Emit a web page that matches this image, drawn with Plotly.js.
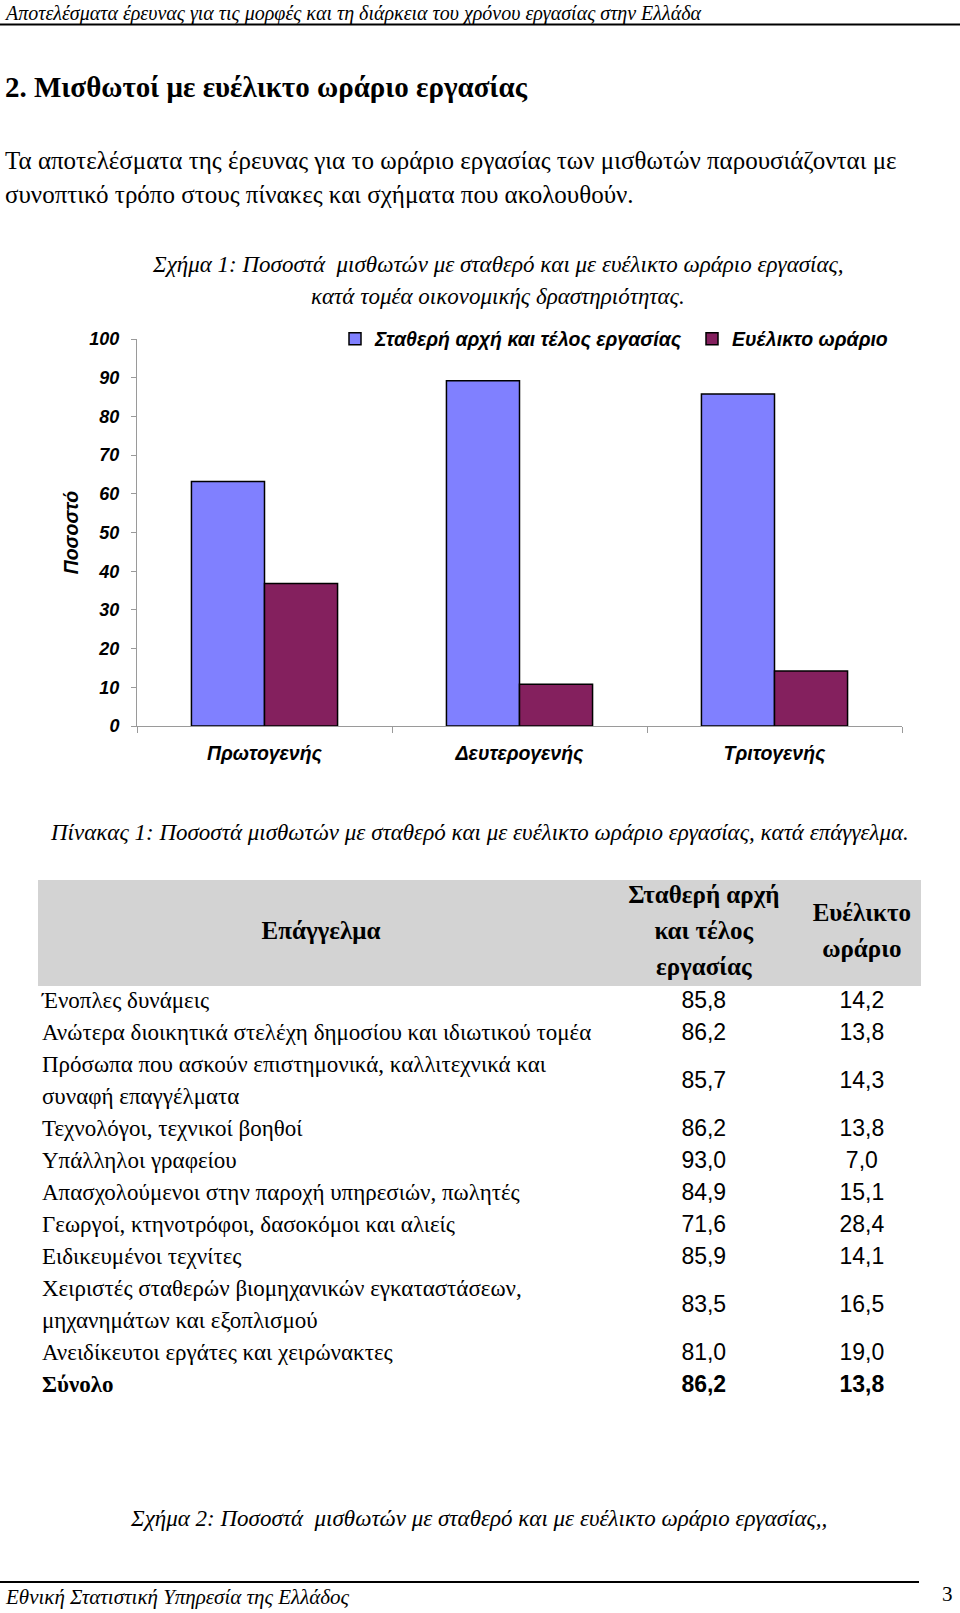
<!DOCTYPE html>
<html>
<head>
<meta charset="utf-8">
<script src="https://cdn.plot.ly/plotly-3.0.1.min.js"></script>
<style>
html,body{margin:0;padding:0;background:#fff;}
#page{width:960px;height:1613px;}
</style>
</head>
<body>
<div id="page"></div>
<script>
// ---------------- DATA ----------------
var sectors = ['Πρωτογενής', 'Δευτερογενής', 'Τριτογενής'];
var fixedShare = [63.2, 89.2, 85.8];
var flexibleShare = [36.8, 10.8, 14.2];
var seriesNames = ['Σταθερή αρχή και τέλος εργασίας', 'Ευέλικτο ωράριο'];
var yTickValues = [0, 10, 20, 30, 40, 50, 60, 70, 80, 90, 100];
var yAxisTitle = 'Ποσοστό';

var occupations = [
  'Ένοπλες δυνάμεις',
  'Ανώτερα διοικητικά στελέχη δημοσίου και ιδιωτικού τομέα',
  'Πρόσωπα που ασκούν επιστημονικά, καλλιτεχνικά και<br>συναφή επαγγέλματα',
  'Τεχνολόγοι, τεχνικοί βοηθοί',
  'Υπάλληλοι γραφείου',
  'Απασχολούμενοι στην παροχή υπηρεσιών, πωλητές',
  'Γεωργοί, κτηνοτρόφοι, δασοκόμοι και αλιείς',
  'Ειδικευμένοι τεχνίτες',
  'Χειριστές σταθερών βιομηχανικών εγκαταστάσεων,<br>μηχανημάτων και εξοπλισμού',
  'Ανειδίκευτοι εργάτες και χειρώνακτες'
];
var occFixed = [85.8, 86.2, 85.7, 86.2, 93.0, 84.9, 71.6, 85.9, 83.5, 81.0];
var occFlexible = [14.2, 13.8, 14.3, 13.8, 7.0, 15.1, 28.4, 14.1, 16.5, 19.0];
var totalLabel = 'Σύνολο';
var totalFixed = 86.2;
var totalFlexible = 13.8;
var tableHeader = ['Επάγγελμα', 'Σταθερή αρχή<br>και τέλος<br>εργασίας', 'Ευέλικτο<br>ωράριο'];

var pageHeader = 'Αποτελέσματα έρευνας για τις μορφές και τη διάρκεια του χρόνου εργασίας στην Ελλάδα';
var sectionTitle = '2. Μισθωτοί με ευέλικτο ωράριο εργασίας';
var introLines = ['Τα αποτελέσματα της έρευνας για το ωράριο εργασίας των μισθωτών παρουσιάζονται με',
                  'συνοπτικό τρόπο στους πίνακες και σχήματα που ακολουθούν.'];
var fig1Caption = ['Σχήμα 1: Ποσοστά&nbsp; μισθωτών με σταθερό και με ευέλικτο ωράριο εργασίας,',
                   'κατά τομέα οικονομικής δραστηριότητας.'];
var table1Caption = 'Πίνακας 1: Ποσοστά μισθωτών με σταθερό και με ευέλικτο ωράριο εργασίας, κατά επάγγελμα.';
var fig2Caption = 'Σχήμα 2: Ποσοστά&nbsp; μισθωτών με σταθερό και με ευέλικτο ωράριο εργασίας,,';
var footerText = 'Εθνική Στατιστική Υπηρεσία της Ελλάδος';
var pageNumber = '3';

// ---------------- LAYOUT HELPERS ----------------
var W = 960, H = 1613;
function px(x) { return x / W; }
function py(y) { return 1 - y / H; }
var SERIF = 'Liberation Serif, Times New Roman, serif';
var SANS = 'Liberation Sans, Arial, sans-serif';
function fmt(v) { return v.toFixed(1).replace('.', ','); }
function note(text, x, y, o) {
  var a = {xref: 'paper', yref: 'paper', x: px(x), y: py(y), text: text, showarrow: false,
           xanchor: 'left', yanchor: 'middle', font: {family: SERIF, size: 20, color: '#000'}};
  for (var k in o) a[k] = o[k];
  return a;
}

var tickFont = {family: SANS, size: 18, color: '#000', weight: 'bold', style: 'italic'};
var labelFont = {family: SANS, size: 19.5, color: '#000', weight: 'bold', style: 'italic'};

// ---------------- BAR CHART ----------------
var traces = [
  {type: 'bar', x: sectors, y: fixedShare, name: seriesNames[0], xaxis: 'x', yaxis: 'y',
   legend: 'legend', marker: {color: '#8080FF', line: {color: '#000', width: 1.5}}, hoverinfo: 'x+y'},
  {type: 'bar', x: sectors, y: flexibleShare, name: seriesNames[1], xaxis: 'x', yaxis: 'y',
   legend: 'legend2', marker: {color: '#84205E', line: {color: '#000', width: 1.5}}, hoverinfo: 'x+y'}
];

// ---------------- TABLE (text through axes x2/y2) ----------------
var rowsLabel = occupations.concat([totalLabel]);
var rowsFixed = occFixed.concat([totalFixed]);
var rowsFlex = occFlexible.concat([totalFlexible]);
var nameX = [], nameY = [], nameT = [];
var valY = [], fixT = [], flexT = [];
var lineIdx = 0;
for (var i = 0; i < rowsLabel.length; i++) {
  var isTotal = (i === rowsLabel.length - 1);
  var lines = rowsLabel[i].split('<br>');
  for (var j = 0; j < lines.length; j++) {
    nameX.push(0.0045);
    nameY.push(lineIdx + j);
    nameT.push(isTotal ? '<b>' + lines[j] + '</b>' : lines[j]);
  }
  valY.push(lineIdx + (lines.length - 1) / 2);
  fixT.push(isTotal ? '<b>' + fmt(rowsFixed[i]) + '</b>' : fmt(rowsFixed[i]));
  flexT.push(isTotal ? '<b>' + fmt(rowsFlex[i]) + '</b>' : fmt(rowsFlex[i]));
  lineIdx += lines.length;
}
var colX = [0.3205, 0.754, 0.933];
var headTop = -3.8125, headBottom = -0.5, headStep = 1.125;
var headCenter = (headTop + headBottom) / 2;
var hX = [], hY = [], hT = [];
for (var c = 0; c < tableHeader.length; c++) {
  var hl = tableHeader[c].split('<br>');
  for (var k = 0; k < hl.length; k++) {
    hX.push(colX[c]);
    hY.push(headCenter + (k - (hl.length - 1) / 2) * headStep);
    hT.push('<b>' + hl[k] + '</b>');
  }
}
var tableTextTraces = [
  {type: 'scatter', mode: 'text', x: hX, y: hY, text: hT, textposition: 'middle center',
   textfont: {family: SERIF, size: 25, color: '#000'}, xaxis: 'x2', yaxis: 'y2',
   showlegend: false, hoverinfo: 'skip', cliponaxis: false},
  {type: 'scatter', mode: 'text', x: nameX, y: nameY, text: nameT, textposition: 'middle right',
   textfont: {family: SERIF, size: 23, color: '#000'}, xaxis: 'x2', yaxis: 'y2',
   showlegend: false, hoverinfo: 'skip', cliponaxis: false},
  {type: 'scatter', mode: 'text', x: valY.map(function(){return colX[1];}), y: valY, text: fixT,
   textposition: 'middle center', textfont: {family: SANS, size: 23, color: '#000'},
   xaxis: 'x2', yaxis: 'y2', showlegend: false, hoverinfo: 'skip', cliponaxis: false},
  {type: 'scatter', mode: 'text', x: valY.map(function(){return colX[2];}), y: valY, text: flexT,
   textposition: 'middle center', textfont: {family: SANS, size: 23, color: '#000'},
   xaxis: 'x2', yaxis: 'y2', showlegend: false, hoverinfo: 'skip', cliponaxis: false}
];
var tableBottomLine = lineIdx - 0.5;

// ---------------- LAYOUT ----------------
var legendBase = {orientation: 'h', xanchor: 'left', y: py(339), yanchor: 'middle',
                  font: labelFont, bgcolor: 'rgba(0,0,0,0)', borderwidth: 0};
var legend1 = Object.assign({}, legendBase, {x: px(335)});
var legend2 = Object.assign({}, legendBase, {x: px(692)});

var layout = {
  width: W, height: H,
  margin: {l: 0, r: 0, t: 0, b: 0, pad: 0},
  paper_bgcolor: '#fff', plot_bgcolor: 'rgba(0,0,0,0)',
  font: {family: SANS, color: '#000'},
  barmode: 'group', bargap: 0.427, bargroupgap: 0,
  showlegend: true,
  legend: legend1,
  legend2: legend2,
  xaxis: {domain: [px(137), px(902)], anchor: 'y', type: 'category',
          showline: true, linecolor: '#9a9a9a', linewidth: 1,
          ticks: 'outside', tickson: 'boundaries', ticklen: 6, tickcolor: '#9a9a9a', tickwidth: 1,
          tickfont: labelFont, ticklabelstandoff: 10, showgrid: false, zeroline: false, fixedrange: true},
  yaxis: {domain: [py(726), py(339)], anchor: 'x', range: [0, 100], tickvals: yTickValues,
          showline: true, linecolor: '#9a9a9a', linewidth: 1,
          ticks: 'outside', ticklen: 5, tickcolor: '#9a9a9a', tickwidth: 1,
          tickfont: tickFont, ticklabelstandoff: 8, showgrid: false, zeroline: false, fixedrange: true,
          title: {text: yAxisTitle, font: labelFont, standoff: 5}},
  xaxis2: {domain: [px(38), px(921)], anchor: 'y2', range: [0, 1], visible: false, fixedrange: true},
  yaxis2: {domain: [py(880 + (tableBottomLine - headTop) * 32), py(880)], anchor: 'x2',
           range: [tableBottomLine, headTop], visible: false, fixedrange: true},
  shapes: [
    {type: 'line', xref: 'paper', yref: 'paper', x0: 0, x1: 1, y0: py(24.5), y1: py(24.5),
     line: {color: '#000', width: 2}},
    {type: 'rect', xref: 'x2', yref: 'y2', x0: 0, x1: 1, y0: headTop, y1: headBottom,
     fillcolor: '#D3D3D3', line: {width: 0}, layer: 'below'},
    {type: 'line', xref: 'paper', yref: 'paper', x0: 0, x1: px(919), y0: py(1582), y1: py(1582),
     line: {color: '#000', width: 2}}
  ],
  annotations: [
    note(pageHeader, 3, 0.5, {yanchor: 'top', borderpad: 0, font: {family: SERIF, size: 20, style: 'italic', color: '#000'}}),
    note(sectionTitle, 3, 87, {font: {family: SERIF, size: 29, weight: 'bold', color: '#000'}}),
    note(introLines[0], 3, 161, {font: {family: SERIF, size: 25, color: '#000'}}),
    note(introLines[1], 3, 195, {font: {family: SERIF, size: 25, color: '#000'}}),
    note(fig1Caption[0], 498, 265, {xanchor: 'center', font: {family: SERIF, size: 23, style: 'italic', color: '#000'}}),
    note(fig1Caption[1], 498, 297, {xanchor: 'center', font: {family: SERIF, size: 23, style: 'italic', color: '#000'}}),
    note(table1Caption, 479, 832, {xanchor: 'center', font: {family: SERIF, size: 23, style: 'italic', color: '#000'}}),
    note(fig2Caption, 478, 1518, {xanchor: 'center', font: {family: SERIF, size: 23, style: 'italic', color: '#000'}}),
    note(footerText, 3, 1597, {font: {family: SERIF, size: 21, style: 'italic', color: '#000'}}),
    note(pageNumber, 947, 1594, {xanchor: 'center', font: {family: SERIF, size: 21, color: '#000'}})
  ]
};

Plotly.newPlot('page', traces.concat(tableTextTraces), layout, {displayModeBar: false, staticPlot: true});
</script>
</body>
</html>
